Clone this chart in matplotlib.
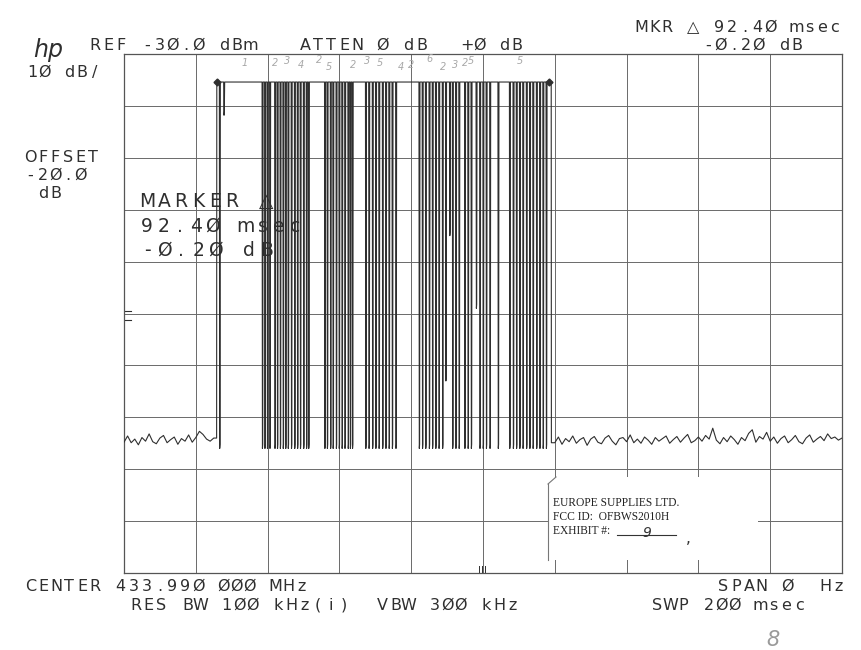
import matplotlib.pyplot as plt
from matplotlib.patches import Rectangle

W, H = 862, 650

# sweep: 0 Hz span, 200 msec, ref -30 dBm, 10 dB/div
top_level = -35.4
dip_floor = -106.0

noise_left_t = list(range(0, 26))
noise_left = [-104.8, -103.6, -104.9, -104.2, -105.3, -103.9, -104.6, -103.2, -104.7, -105.1,
              -104.0, -103.5, -104.9, -104.3, -103.8, -105.2, -104.1, -104.6, -103.4, -104.8,
              -103.9, -102.7, -103.3, -104.2, -104.6, -104.0]

rise_t = 25.8
fall_t = 119.0

# full-depth gaps in the pulse train (msec)
dip_times = [26.7,
             38.6, 39.3, 40.0, 40.7, 42.1, 42.8, 43.6, 44.4, 45.1, 45.8, 46.7, 47.6, 48.4, 49.2, 50.1, 50.9, 51.5,
             56.0, 56.7, 57.6, 58.3, 59.2, 60.0, 60.8, 61.6, 62.5, 63.1, 63.7,
             67.4, 68.3, 69.3, 70.2, 71.1, 72.1, 73.0, 73.9, 74.8, 75.8,
             82.3, 83.2, 84.1, 85.1, 86.0, 86.9, 87.8, 88.8, 91.6, 92.5, 93.4,
             95.0, 95.9, 96.8, 99.2, 100.1, 101.0, 102.0, 104.3,
             107.5, 108.5, 109.4, 110.3, 111.2, 112.2, 113.1, 114.0, 115.0, 115.9, 116.8, 117.7]

# shallow gaps
partial_times = [27.9, 89.7, 90.8, 98.2]
partial_levels = [-41.8, -93.0, -65.0, -79.0]

noise_right_t = list(range(120, 201))
noise_right = [-104.9, -103.8, -105.2, -104.1, -104.7, -103.6, -105.0, -104.3, -103.9, -105.4,
               -104.2, -103.7, -104.8, -105.1, -104.0, -103.5, -104.6, -105.3, -104.1, -103.9,
               -104.7, -103.4, -104.9, -104.2, -105.0, -103.8, -104.4, -105.2, -103.9, -104.6,
               -104.1, -103.6, -105.0, -104.3, -103.7, -104.8, -104.0, -103.3, -104.9, -104.5,
               -103.8, -104.6, -103.5, -104.2, -102.1, -104.4, -105.1, -103.9, -104.7, -103.6,
               -104.3, -105.2, -103.9, -104.5, -103.1, -102.4, -104.8, -103.7, -104.2, -102.9,
               -104.6, -103.8, -105.0, -104.1, -103.6, -104.9, -104.3, -103.5, -104.7, -105.1,
               -104.0, -103.4, -104.8, -104.2, -103.7, -104.5, -103.2, -104.1, -103.8, -104.4, -104.0]

marker_times = [26.0, 118.4]

INK = "#2f2f2f"


def build_trace():
    t = list(noise_left_t)
    y = list(noise_left)
    t += [rise_t, rise_t + 0.05]
    y += [noise_left[-1], top_level]
    gaps = [(d, dip_floor) for d in dip_times] + list(zip(partial_times, partial_levels))
    gaps.sort()
    for d, lvl in gaps:
        t += [d - 0.14, d - 0.04, d + 0.04, d + 0.14]
        y += [top_level, lvl, lvl + 0.8, top_level]
    t += [fall_t, fall_t + 0.05]
    y += [top_level, noise_right[0]]
    t += noise_right_t
    y += noise_right
    return t, y


def px(x, y):
    return x / W, 1 - y / H


fig = plt.figure(figsize=(W / 100, H / 100), dpi=100)
ax = fig.add_axes([124 / W, 1 - 573 / H, 718 / W, 519 / H])

t, y = build_trace()
ax.plot(t, y, color=INK, linewidth=0.8, zorder=3)
ax.plot(marker_times, [top_level] * 2, linestyle="none", marker="D", markersize=3.5,
        color=INK, zorder=4)

ax.set_xlim(0, 200)
ax.set_ylim(-130, -30)
ax.set_xticks(range(0, 201, 20))
ax.set_yticks(range(-130, -29, 10))
ax.tick_params(length=0, labelbottom=False, labelleft=False)
ax.grid(True, color="#6a6a6a", linewidth=0.7)
for s in ax.spines.values():
    s.set_color("#555555")
    s.set_linewidth(0.9)

# display-line marks on the left edge and centre ticks at the bottom
for yy in (0.505, 0.487):
    ax.plot([0, 0.01], [yy, yy], transform=ax.transAxes, color=INK, linewidth=0.8)
for xx in (0.495, 0.499, 0.503):
    ax.plot([xx, xx], [0, 0.014], transform=ax.transAxes, color=INK, linewidth=0.7)

# stamp box
box = Rectangle(px(548, 560), 210 / W, 83 / H, transform=fig.transFigure,
                facecolor="white", edgecolor="none", zorder=5)
fig.patches.append(box)
fig.add_artist(plt.Line2D([548 / W, 548 / W], [1 - 484 / H, 1 - 560 / H], color="#777777",
                          linewidth=0.8, zorder=6))
fig.add_artist(plt.Line2D([548 / W, 556 / W], [1 - 484 / H, 1 - 477 / H], color="#777777",
                          linewidth=0.8, zorder=6))


def hp_text(x, y, s, pitch=13.0, size=11.5, color=INK):
    for i, ch in enumerate(s):
        if ch == " ":
            continue
        fig.text(*px(x + i * pitch + pitch * 0.42, y), ch, ha="center", va="baseline",
                 fontsize=size, color=color, family="DejaVu Sans", zorder=7)


hp_text(636, 32, "MKR △ 92.4Ø msec", pitch=12.9)
hp_text(703, 50, "-Ø.2Ø dB", pitch=12.6)
hp_text(90, 50, "REF -3Ø.Ø dBm", pitch=12.9)
hp_text(300, 50, "ATTEN Ø dB", pitch=12.9)
hp_text(462, 50, "+Ø dB", pitch=12.4)
hp_text(27, 77, "1Ø dB/", pitch=12.4)
hp_text(25, 162, "OFFSET", pitch=12.6)
hp_text(25, 180, "-2Ø.Ø", pitch=12.6)
hp_text(38, 198, "dB", pitch=12.6)
hp_text(140, 207, "MARKER △", pitch=17.0, size=13.5)
hp_text(140, 232, "92.4Ø msec", pitch=16.5, size=13.5)
hp_text(140, 256, "-Ø.2Ø dB", pitch=17.0, size=13.5)
hp_text(25, 591, "CENTER 433.99Ø ØØØ MHz", pitch=12.9)
hp_text(130, 610, "RES BW 1ØØ kHz(i)  VBW 3ØØ kHz", pitch=13.0)
hp_text(718, 591, "SPAN Ø  Hz", pitch=12.8)
hp_text(652, 610, "SWP 2ØØ msec", pitch=12.9)

fig.text(*px(33, 57), "hp", fontsize=17, fontstyle="italic", color=INK,
         family="DejaVu Sans", va="baseline")

# stamp text
for yb, line in [(506, "EUROPE SUPPLIES LTD."), (520, "FCC ID:  OFBWS2010H"), (534, "EXHIBIT #:")]:
    fig.text(*px(553, yb), line, fontsize=8.3, color="#222222", family="Liberation Serif",
             va="baseline", zorder=7)
fig.add_artist(plt.Line2D([617 / W, 676 / W], [1 - 535 / H, 1 - 535 / H], color="#333333",
                          linewidth=0.8, zorder=7))
fig.text(*px(642, 537), "9", fontsize=10, fontstyle="italic", color="#333333",
         family="DejaVu Sans", va="baseline", zorder=7)
fig.text(*px(686, 543), ",", fontsize=11, color="#333333", va="baseline", zorder=7)

# pencil notes over the pulses
notes = [(242, 66, "1"), (272, 66, "2"), (284, 64, "3"), (298, 68, "4"), (316, 63, "2"),
         (326, 70, "5"), (350, 68, "2"), (364, 64, "3"), (377, 66, "5"), (398, 70, "4"),
         (408, 68, "2"), (426, 62, "6"), (440, 70, "2"), (452, 68, "3"), (462, 66, "2"),
         (468, 64, "5"), (517, 64, "5")]
for xn, yn, s in notes:
    fig.text(*px(xn, yn), s, fontsize=7, fontstyle="italic", color="#a8a8a8", va="baseline")

fig.text(*px(766, 646), "8", fontsize=15, fontstyle="italic", color="#9a9a9a", va="baseline")

fig.savefig("out.png", dpi=100)
